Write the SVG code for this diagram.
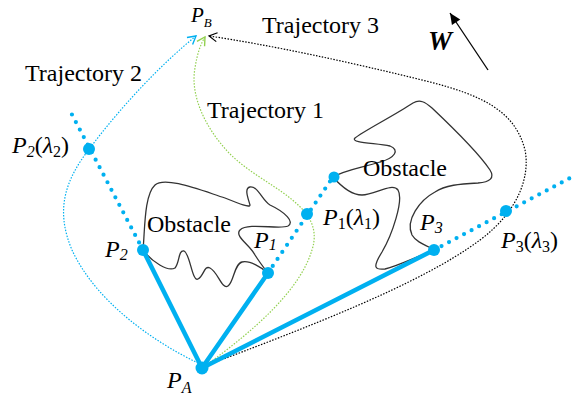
<svg xmlns="http://www.w3.org/2000/svg" width="576" height="396" viewBox="0 0 576 396" font-family="'Liberation Serif', 'Times New Roman', serif">
<style>
text{font-family:'Liberation Serif','Times New Roman',serif;fill:#000}
.lbl{font-size:24px}
.it{font-style:italic}
.sub{font-size:16px}
.obst{fill:none;stroke:#333;stroke-width:1.3}
.thick{stroke:#00b0f0;stroke-width:4.5;stroke-linecap:round;fill:none}
.ray{stroke:#00b0f0;stroke-width:4.2;stroke-linecap:round;stroke-dasharray:0 8.5;fill:none}
.dot{fill:#00b0f0}
.traj{fill:none;stroke-width:1.2;stroke-dasharray:1.5 1.5}
</style>
<defs>
<marker id="chB" markerUnits="userSpaceOnUse" markerWidth="14" markerHeight="14" viewBox="-10 -7 14 14" refX="0" refY="0" orient="auto"><path d="M-8,-4.5 L0,0 L-8,4.5" fill="none" stroke="#00b0f0" stroke-width="1.4"/></marker>
<marker id="chG" markerUnits="userSpaceOnUse" markerWidth="14" markerHeight="14" viewBox="-10 -7 14 14" refX="0" refY="0" orient="auto"><path d="M-8,-4.5 L0,0 L-8,4.5" fill="none" stroke="#92d050" stroke-width="1.4"/></marker>
<marker id="chK" markerUnits="userSpaceOnUse" markerWidth="14" markerHeight="14" viewBox="-10 -7 14 14" refX="0" refY="0" orient="auto"><path d="M-8,-4.5 L0,0 L-8,4.5" fill="none" stroke="#000" stroke-width="1.2"/></marker>
<marker id="tri" markerUnits="userSpaceOnUse" markerWidth="14" markerHeight="14" viewBox="-12 -7 14 14" refX="0" refY="0" orient="auto"><path d="M-11,-5 L0,0 L-11,5 Z" fill="#000"/></marker>
</defs>

<g id="obstacle1">
<path class="obst" d="M143,250 C145,230 144,195 155,185 C165,176 200,190 225,198 C240,204 250,208 250,205 C248,198 244,188 250,187 C258,186 262,200 270,205 C285,212 295,222 288,226 C280,230 248,222 240,230 C234,236 250,245 255,255 C260,263 264,268 268,273"/>
<path class="obst" d="M143,250 C152,262 168,272 175,268 C180,262 178,250 184,251 C190,253 192,282 198,279 C204,276 204,265 210,268 C218,272 222,290 228,286 C234,282 234,264 242,262 C250,260 262,268 268,273"/>
<text class="lbl" x="147" y="232">Obstacle</text>
</g>

<g id="obstacle2">
<path class="obst" d="M333,177 C345,170 360,168 380,162 C395,158 400,150 390,146 C375,143 350,143 355,138 C362,132 395,115 413,103 C420,99 425,102 432,108 C450,125 480,155 490,170 C495,178 490,182 478,183 C460,184 445,185 435,192 C420,200 405,220 412,235 C416,242 425,245 435,250"/>
<path class="obst" d="M333,177 C340,185 350,195 362,195 C375,195 392,182 398,190 C404,200 392,235 382,252 C372,268 375,270 385,269 C400,265 420,255 435,250"/>
<text class="lbl" x="363" y="176">Obstacle</text>
</g>

<g id="connectors">
<path class="traj" stroke="#00b0f0" d="M198,363 C150,340 95,300 72,250 C55,210 65,180 90,148 C120,108 160,65 196,36" marker-end="url(#chB)"/>
<path class="traj" stroke="#92d050" d="M205,366 C255,330 300,290 312,250 C320,225 305,210 290,198 C270,182 240,168 222,145 C205,125 190,95 195,68 C197,55 200,45 205,37" marker-end="url(#chG)"/>
<path class="traj" stroke="#000" stroke-width="1" d="M205,366 C300,330 420,285 480,240 C520,210 530,175 525,150 C515,110 480,95 430,82 C350,62 270,45 209,36" marker-end="url(#chK)"/>
<line class="thick" x1="202" y1="368" x2="143" y2="250"/>
<line class="thick" x1="202" y1="368" x2="268" y2="273"/>
<line class="thick" x1="202" y1="368" x2="434" y2="250"/>
<line class="ray" x1="143" y1="250" x2="68" y2="107"/>
<line class="ray" x1="268" y1="273" x2="333" y2="177"/>
<line class="ray" x1="434" y1="250" x2="572" y2="177"/>
<line x1="488" y1="70" x2="450" y2="13" stroke="#000" stroke-width="1.3" marker-end="url(#tri)"/>
</g>

<g id="PA"><circle class="dot" cx="202" cy="368" r="6.5"/><text class="lbl it" x="167" y="388">P<tspan class="sub" dy="5">A</tspan></text></g>
<g id="P2"><circle class="dot" cx="143" cy="250" r="6"/><text class="lbl it" x="105" y="257">P<tspan class="sub" dy="3">2</tspan></text></g>
<g id="P1"><circle class="dot" cx="268" cy="273" r="6"/><text class="lbl it" x="254" y="248">P<tspan class="sub" dy="2">1</tspan></text></g>
<g id="P3"><circle class="dot" cx="434" cy="250" r="6"/><text class="lbl it" x="420" y="230">P<tspan class="sub" dy="3">3</tspan></text></g>
<g id="P2l"><circle class="dot" cx="89" cy="149" r="6"/><text class="lbl" x="12" y="153"><tspan class="it">P</tspan><tspan class="sub it" dy="4">2</tspan><tspan dy="-4">(</tspan><tspan class="it">λ</tspan><tspan class="sub" dy="4">2</tspan><tspan dy="-4">)</tspan></text></g>
<g id="P1l"><circle class="dot" cx="307" cy="214" r="6"/><text class="lbl" x="323" y="225"><tspan class="it">P</tspan><tspan class="sub" dy="4">1</tspan><tspan dy="-4">(</tspan><tspan class="it">λ</tspan><tspan class="sub" dy="4">1</tspan><tspan dy="-4">)</tspan></text></g>
<g id="P1top"><circle class="dot" cx="334" cy="177" r="5.5"/></g>
<g id="P3l"><circle class="dot" cx="506" cy="211" r="6"/><text class="lbl" x="501" y="248"><tspan class="it">P</tspan><tspan class="sub" dy="4">3</tspan><tspan dy="-4">(</tspan><tspan class="it">λ</tspan><tspan class="sub" dy="4">3</tspan><tspan dy="-4">)</tspan></text></g>
<g id="PB"><text class="it" font-size="21" x="191" y="22">P<tspan font-size="13" dy="5">B</tspan></text></g>

<g id="labels">
<text class="lbl" x="25" y="81">Trajectory 2</text>
<text class="lbl" x="262" y="33">Trajectory 3</text>
<text class="lbl" x="207" y="118">Trajectory 1</text>
<text font-size="27" font-weight="bold" font-style="italic" x="428" y="50">W</text>
</g>
</svg>
